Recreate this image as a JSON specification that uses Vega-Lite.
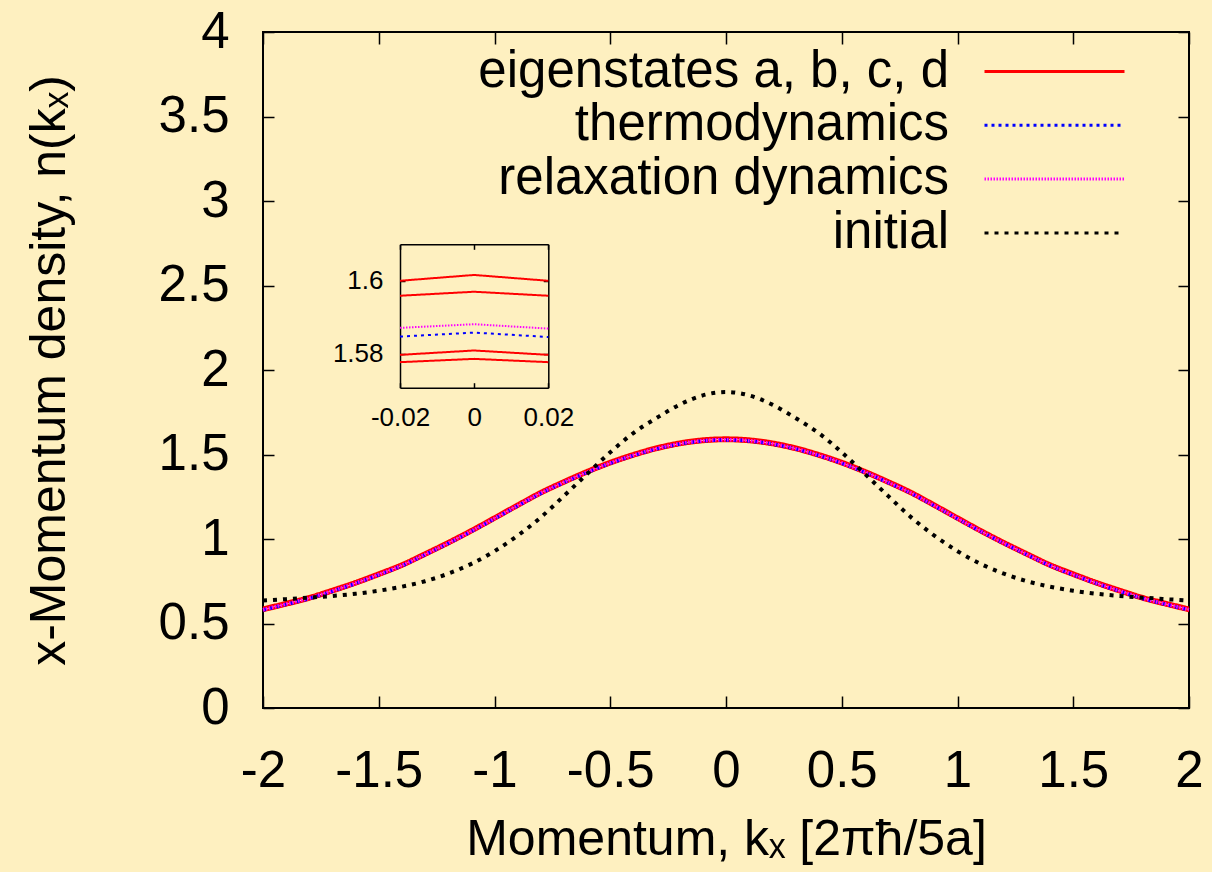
{
  "$schema": "https://vega.github.io/schema/vega-lite/v6.json",
  "width": 926,
  "height": 676,
  "autosize": {"type": "none"},
  "padding": {"left": 263, "top": 32, "right": 23, "bottom": 164},
  "background": "#FEF0C0",
  "config": {
    "view": {"stroke": "#000000", "strokeWidth": 2, "fill": null},
    "font": "Liberation Sans",
    "axis": {
      "grid": false,
      "domain": false,
      "tickColor": "#000000",
      "tickWidth": 1.5,
      "labelColor": "#000000",
      "labelFont": "Liberation Sans",
      "titleFont": "Liberation Sans",
      "titleColor": "#000000",
      "titleFontWeight": "normal",
      "labelFlush": false,
      "labelOverlap": false,
      "labelBound": false
    },
    "legend": {
      "orient": "none",
      "padding": 0,
      "labelFont": "Liberation Sans",
      "labelFontSize": 51,
      "labelColor": "#000000",
      "labelLimit": 1000,
      "labelAlign": "right",
      "labelOffset": -131,
      "symbolSize": 784,
      "symbolStrokeWidth": 3,
      "rowPadding": 1.8
    }
  },
  "datasets": {
    "main": [
      {"k": -2.0, "a1": 0.5955, "a2": 0.591, "a3": 0.575, "a4": 0.5725, "b_th": 0.580, "c_re": 0.582, "d_in": 0.636},
      {"k": -1.9, "a1": 0.6285, "a2": 0.624, "a3": 0.608, "a4": 0.6055, "b_th": 0.613, "c_re": 0.615, "d_in": 0.644},
      {"k": -1.8, "a1": 0.6635, "a2": 0.659, "a3": 0.643, "a4": 0.6405, "b_th": 0.648, "c_re": 0.650, "d_in": 0.653},
      {"k": -1.7, "a1": 0.7065, "a2": 0.702, "a3": 0.686, "a4": 0.6835, "b_th": 0.691, "c_re": 0.693, "d_in": 0.663},
      {"k": -1.6, "a1": 0.7525, "a2": 0.748, "a3": 0.732, "a4": 0.7295, "b_th": 0.737, "c_re": 0.739, "d_in": 0.676},
      {"k": -1.5, "a1": 0.8035, "a2": 0.799, "a3": 0.783, "a4": 0.7805, "b_th": 0.788, "c_re": 0.790, "d_in": 0.694},
      {"k": -1.4, "a1": 0.8575, "a2": 0.853, "a3": 0.837, "a4": 0.8345, "b_th": 0.842, "c_re": 0.844, "d_in": 0.718},
      {"k": -1.3, "a1": 0.9225, "a2": 0.918, "a3": 0.902, "a4": 0.8995, "b_th": 0.907, "c_re": 0.909, "d_in": 0.750},
      {"k": -1.2, "a1": 0.9895, "a2": 0.985, "a3": 0.969, "a4": 0.9665, "b_th": 0.974, "c_re": 0.976, "d_in": 0.795},
      {"k": -1.1, "a1": 1.0605, "a2": 1.056, "a3": 1.040, "a4": 1.0375, "b_th": 1.045, "c_re": 1.047, "d_in": 0.853},
      {"k": -1.0, "a1": 1.1355, "a2": 1.131, "a3": 1.115, "a4": 1.1125, "b_th": 1.120, "c_re": 1.122, "d_in": 0.928},
      {"k": -0.9, "a1": 1.2115, "a2": 1.207, "a3": 1.191, "a4": 1.1885, "b_th": 1.196, "c_re": 1.198, "d_in": 1.020},
      {"k": -0.8, "a1": 1.2855, "a2": 1.281, "a3": 1.265, "a4": 1.2625, "b_th": 1.270, "c_re": 1.272, "d_in": 1.128},
      {"k": -0.7, "a1": 1.3495, "a2": 1.345, "a3": 1.329, "a4": 1.3265, "b_th": 1.334, "c_re": 1.336, "d_in": 1.255},
      {"k": -0.6, "a1": 1.4095, "a2": 1.405, "a3": 1.389, "a4": 1.3865, "b_th": 1.394, "c_re": 1.396, "d_in": 1.385},
      {"k": -0.5, "a1": 1.4635, "a2": 1.459, "a3": 1.443, "a4": 1.4405, "b_th": 1.448, "c_re": 1.450, "d_in": 1.513},
      {"k": -0.4, "a1": 1.5095, "a2": 1.505, "a3": 1.489, "a4": 1.4865, "b_th": 1.494, "c_re": 1.496, "d_in": 1.627},
      {"k": -0.3, "a1": 1.5485, "a2": 1.544, "a3": 1.528, "a4": 1.5255, "b_th": 1.533, "c_re": 1.535, "d_in": 1.716},
      {"k": -0.2, "a1": 1.5775, "a2": 1.573, "a3": 1.557, "a4": 1.5545, "b_th": 1.562, "c_re": 1.564, "d_in": 1.795},
      {"k": -0.1, "a1": 1.5955, "a2": 1.591, "a3": 1.575, "a4": 1.5725, "b_th": 1.580, "c_re": 1.582, "d_in": 1.850},
      {"k": 0.0, "a1": 1.6015, "a2": 1.597, "a3": 1.581, "a4": 1.5785, "b_th": 1.586, "c_re": 1.588, "d_in": 1.870},
      {"k": 0.1, "a1": 1.5955, "a2": 1.591, "a3": 1.575, "a4": 1.5725, "b_th": 1.580, "c_re": 1.582, "d_in": 1.850},
      {"k": 0.2, "a1": 1.5775, "a2": 1.573, "a3": 1.557, "a4": 1.5545, "b_th": 1.562, "c_re": 1.564, "d_in": 1.795},
      {"k": 0.3, "a1": 1.5485, "a2": 1.544, "a3": 1.528, "a4": 1.5255, "b_th": 1.533, "c_re": 1.535, "d_in": 1.716},
      {"k": 0.4, "a1": 1.5095, "a2": 1.505, "a3": 1.489, "a4": 1.4865, "b_th": 1.494, "c_re": 1.496, "d_in": 1.627},
      {"k": 0.5, "a1": 1.4635, "a2": 1.459, "a3": 1.443, "a4": 1.4405, "b_th": 1.448, "c_re": 1.450, "d_in": 1.513},
      {"k": 0.6, "a1": 1.4095, "a2": 1.405, "a3": 1.389, "a4": 1.3865, "b_th": 1.394, "c_re": 1.396, "d_in": 1.385},
      {"k": 0.7, "a1": 1.3495, "a2": 1.345, "a3": 1.329, "a4": 1.3265, "b_th": 1.334, "c_re": 1.336, "d_in": 1.255},
      {"k": 0.8, "a1": 1.2855, "a2": 1.281, "a3": 1.265, "a4": 1.2625, "b_th": 1.270, "c_re": 1.272, "d_in": 1.128},
      {"k": 0.9, "a1": 1.2115, "a2": 1.207, "a3": 1.191, "a4": 1.1885, "b_th": 1.196, "c_re": 1.198, "d_in": 1.020},
      {"k": 1.0, "a1": 1.1355, "a2": 1.131, "a3": 1.115, "a4": 1.1125, "b_th": 1.120, "c_re": 1.122, "d_in": 0.928},
      {"k": 1.1, "a1": 1.0605, "a2": 1.056, "a3": 1.040, "a4": 1.0375, "b_th": 1.045, "c_re": 1.047, "d_in": 0.853},
      {"k": 1.2, "a1": 0.9895, "a2": 0.985, "a3": 0.969, "a4": 0.9665, "b_th": 0.974, "c_re": 0.976, "d_in": 0.795},
      {"k": 1.3, "a1": 0.9225, "a2": 0.918, "a3": 0.902, "a4": 0.8995, "b_th": 0.907, "c_re": 0.909, "d_in": 0.750},
      {"k": 1.4, "a1": 0.8575, "a2": 0.853, "a3": 0.837, "a4": 0.8345, "b_th": 0.842, "c_re": 0.844, "d_in": 0.718},
      {"k": 1.5, "a1": 0.8035, "a2": 0.799, "a3": 0.783, "a4": 0.7805, "b_th": 0.788, "c_re": 0.790, "d_in": 0.694},
      {"k": 1.6, "a1": 0.7525, "a2": 0.748, "a3": 0.732, "a4": 0.7295, "b_th": 0.737, "c_re": 0.739, "d_in": 0.676},
      {"k": 1.7, "a1": 0.7065, "a2": 0.702, "a3": 0.686, "a4": 0.6835, "b_th": 0.691, "c_re": 0.693, "d_in": 0.663},
      {"k": 1.8, "a1": 0.6635, "a2": 0.659, "a3": 0.643, "a4": 0.6405, "b_th": 0.648, "c_re": 0.650, "d_in": 0.653},
      {"k": 1.9, "a1": 0.6285, "a2": 0.624, "a3": 0.608, "a4": 0.6055, "b_th": 0.613, "c_re": 0.615, "d_in": 0.644},
      {"k": 2.0, "a1": 0.5955, "a2": 0.591, "a3": 0.575, "a4": 0.5725, "b_th": 0.580, "c_re": 0.582, "d_in": 0.636}
    ],
    "inset": [
      {"k": -0.02, "a1": 1.6000, "a2": 1.5959, "a3": 1.5797, "a4": 1.5777, "b_th": 1.5847, "c_re": 1.5871},
      {"k": 0.0, "a1": 1.6016, "a2": 1.5970, "a3": 1.5809, "a4": 1.5786, "b_th": 1.5858, "c_re": 1.5881},
      {"k": 0.02, "a1": 1.6000, "a2": 1.5959, "a3": 1.5797, "a4": 1.5777, "b_th": 1.5846, "c_re": 1.5869}
    ]
  },
  "resolve": {"scale": {"x": "independent", "y": "independent"}},
  "layer": [
    {
      "data": {"name": "main"},
      "transform": [{"fold": ["a1", "a2", "a3", "a4", "b_th", "c_re", "d_in"], "as": ["key", "n"]}],
      "resolve": {"axis": {"x": "independent", "y": "independent"}},
      "layer": [
        {
          "mark": {"type": "line", "interpolate": "monotone"},
          "encoding": {
            "x": {
              "field": "k", "type": "quantitative",
              "scale": {"domain": [-2, 2], "nice": false},
              "axis": {
                "orient": "bottom",
                "values": [-2, -1.5, -1, -0.5, 0, 0.5, 1, 1.5, 2],
                "tickSize": -12,
                "labelPadding": 50,
                "labelFontSize": 51,
                "labelExpr": "'' + datum.value",
                "title": "Momentum, kₓ [2πħ/5a]",
                "titleFontSize": 50,
                "titlePadding": 18
              }
            },
            "y": {
              "field": "n", "type": "quantitative",
              "scale": {"domain": [0, 4], "nice": false},
              "axis": {
                "orient": "left",
                "values": [0, 0.5, 1, 1.5, 2, 2.5, 3, 3.5, 4],
                "tickSize": -11,
                "labelPadding": 45,
                "labelFontSize": 51,
                "labelExpr": "'' + datum.value",
                "title": "x-Momentum density, n(kₓ)",
                "titleFontSize": 50,
                "titlePadding": 84
              }
            },
            "color": {
              "field": "key", "type": "nominal",
              "scale": {
                "domain": ["a1", "a2", "a3", "a4", "b_th", "c_re", "d_in"],
                "range": ["#ff0000", "#ff0000", "#ff0000", "#ff0000", "#0000ff", "#ff00ff", "#000000"]
              },
              "legend": {
                "title": null,
                "symbolType": "M-5,0H5",
                "values": ["a1", "b_th", "c_re", "d_in"],
                "labelExpr": "datum.value == 'a1' ? 'eigenstates a, b, c, d' : datum.value == 'b_th' ? 'thermodynamics' : datum.value == 'c_re' ? 'relaxation dynamics' : 'initial'",
                "legendX": 766,
                "legendY": 14
              }
            },
            "strokeDash": {
              "field": "key", "type": "nominal",
              "scale": {
                "domain": ["a1", "a2", "a3", "a4", "b_th", "c_re", "d_in"],
                "range": [[1, 0], [1, 0], [1, 0], [1, 0], [3, 4], [1.5, 1.5], [4, 6]]
              },
              "legend": {
                "title": null,
                "symbolType": "M-5,0H5",
                "values": ["a1", "b_th", "c_re", "d_in"],
                "labelExpr": "datum.value == 'a1' ? 'eigenstates a, b, c, d' : datum.value == 'b_th' ? 'thermodynamics' : datum.value == 'c_re' ? 'relaxation dynamics' : 'initial'",
                "legendX": 766,
                "legendY": 14
              }
            },
            "strokeWidth": {
              "condition": [
                {"test": "datum.key == 'd_in'", "value": 4},
                {"test": "datum.key == 'b_th' || datum.key == 'c_re'", "value": 3.5}
              ],
              "value": 2
            }
          }
        },
        {
          "mark": {"type": "point", "opacity": 0},
          "encoding": {
            "x": {
              "field": "k", "type": "quantitative",
              "axis": {"orient": "top", "values": [-2, -1.5, -1, -0.5, 0, 0.5, 1, 1.5, 2], "tickSize": -12, "labels": false, "title": null}
            },
            "y": {
              "field": "n", "type": "quantitative",
              "axis": {"orient": "right", "values": [0, 0.5, 1, 1.5, 2, 2.5, 3, 3.5, 4], "tickSize": -11, "labels": false, "title": null}
            }
          }
        }
      ]
    },
    {
      "data": {"name": "inset"},
      "transform": [{"fold": ["a1", "a2", "a3", "a4", "b_th", "c_re"], "as": ["key", "n"]}],
      "resolve": {"axis": {"x": "independent", "y": "independent"}},
      "layer": [
        {
          "mark": {"type": "line", "strokeWidth": 2},
          "encoding": {
            "x": {
              "field": "k", "type": "quantitative",
              "scale": {"domain": [-0.02, 0.02], "nice": false, "zero": false, "range": [137, 285.3]},
              "axis": {
                "orient": "bottom", "offset": -320.3, "domain": true, "domainColor": "#000000", "domainWidth": 1.5,
                "values": [-0.02, 0, 0.02], "tickSize": -5, "labelPadding": 22, "labelFontSize": 26,
                "labelExpr": "'' + datum.value", "title": null
              }
            },
            "y": {
              "field": "n", "type": "quantitative",
              "scale": {"domain": [1.5707, 1.61], "nice": false, "zero": false, "range": [355.7, 212.3]},
              "axis": {
                "orient": "left", "offset": -137, "domain": true, "domainColor": "#000000", "domainWidth": 1.5,
                "values": [1.58, 1.6], "tickSize": -5, "labelPadding": 22, "labelFontSize": 26,
                "labelExpr": "'' + datum.value", "title": null
              }
            },
            "color": {
              "field": "key", "type": "nominal",
              "scale": {
                "domain": ["a1", "a2", "a3", "a4", "b_th", "c_re", "d_in"],
                "range": ["#ff0000", "#ff0000", "#ff0000", "#ff0000", "#0000ff", "#ff00ff", "#000000"]
              },
              "legend": null
            },
            "strokeDash": {
              "field": "key", "type": "nominal",
              "scale": {
                "domain": ["a1", "a2", "a3", "a4", "b_th", "c_re", "d_in"],
                "range": [[1, 0], [1, 0], [1, 0], [1, 0], [3, 4], [1.5, 1.5], [4, 6]]
              },
              "legend": null
            }
          }
        },
        {
          "mark": {"type": "point", "opacity": 0},
          "encoding": {
            "x": {
              "field": "k", "type": "quantitative",
              "axis": {"orient": "top", "offset": -212.3, "domain": true, "domainColor": "#000000", "domainWidth": 1.5,
                "values": [-0.02, 0, 0.02], "tickSize": -5, "labels": false, "title": null}
            },
            "y": {
              "field": "n", "type": "quantitative",
              "axis": {"orient": "right", "offset": -640.7, "domain": true, "domainColor": "#000000", "domainWidth": 1.5,
                "values": [1.58, 1.6], "tickSize": -5, "labels": false, "title": null}
            }
          }
        }
      ]
    }
  ]
}
